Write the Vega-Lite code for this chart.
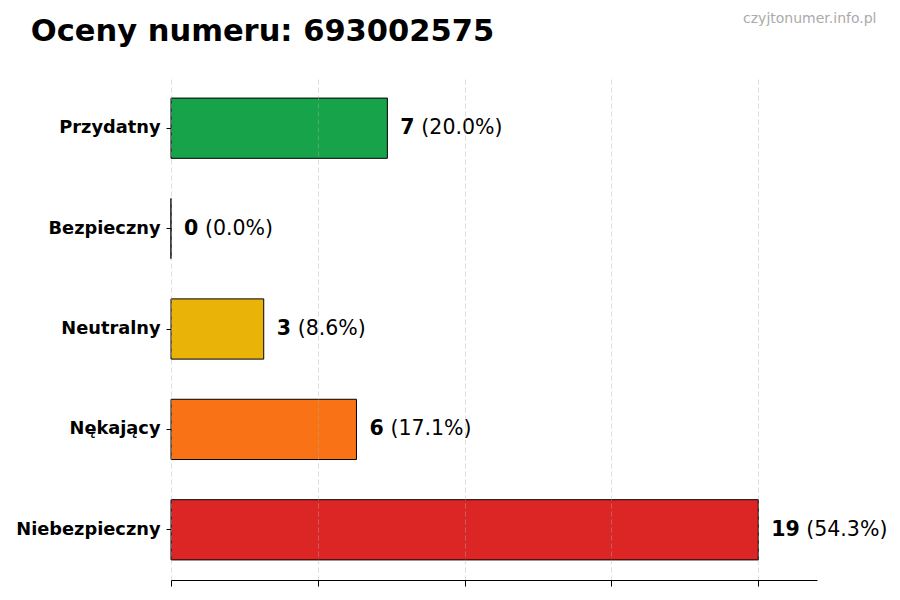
{
  "$schema": "https://vega.github.io/schema/vega-lite/v6.json",
  "width": 646,
  "height": 502,
  "autosize": {"type": "none"},
  "padding": {"left": 171, "top": 78, "right": 83, "bottom": 20},
  "background": "white",
  "view": {"stroke": null},
  "title": {
    "text": "Oceny numeru: 693002575",
    "anchor": "start",
    "font": "DejaVu Sans",
    "fontSize": 30.5,
    "fontWeight": "bold",
    "color": "black",
    "dx": 15,
    "dy": 40
  },
  "data": {
    "values": [
      {"category": "Przydatny", "count": 7, "pct": "(20.0%)"},
      {"category": "Bezpieczny", "count": 0, "pct": "(0.0%)"},
      {"category": "Neutralny", "count": 3, "pct": "(8.6%)"},
      {"category": "Nękający", "count": 6, "pct": "(17.1%)"},
      {"category": "Niebezpieczny", "count": 19, "pct": "(54.3%)"}
    ]
  },
  "encoding": {
    "y": {
      "field": "category",
      "type": "nominal",
      "sort": null,
      "scale": {"paddingInner": 0.4, "paddingOuter": 0.2},
      "axis": {
        "title": "czyjtonumer.info.pl",
        "titleAngle": 0,
        "titleAlign": "right",
        "titleBaseline": "alphabetic",
        "titleX": 705,
        "titleY": -56,
        "titleFont": "DejaVu Sans",
        "titleFontSize": 14,
        "titleFontWeight": "normal",
        "titleColor": "#aaaaaa",
        "domain": false,
        "ticks": true,
        "tickSize": 5,
        "tickColor": "black",
        "labelPadding": 6,
        "labelFont": "DejaVu Sans",
        "labelFontSize": 17.8,
        "labelFontWeight": "bold",
        "labelColor": "black"
      }
    }
  },
  "layer": [
    {
      "mark": {"type": "bar", "stroke": "black", "strokeWidth": 1},
      "encoding": {
        "x": {
          "field": "count",
          "type": "quantitative",
          "scale": {"domain": [0, 20.9], "nice": false, "zero": true},
          "axis": {
            "title": null,
            "values": [0, 4.75, 9.5, 14.25, 19],
            "labels": false,
            "ticks": true,
            "tickSize": 6,
            "tickColor": "black",
            "domain": true,
            "domainColor": "black",
            "grid": true,
            "gridColor": "#b0b0b0",
            "gridOpacity": 0.5,
            "gridDash": [5, 3],
            "gridWidth": 0.8,
            "zindex": 1
          }
        },
        "color": {
          "field": "category",
          "type": "nominal",
          "scale": {
            "domain": ["Przydatny", "Bezpieczny", "Neutralny", "Nękający", "Niebezpieczny"],
            "range": ["#16a34a", "#3b82f6", "#eab308", "#f97316", "#dc2626"]
          },
          "legend": null
        }
      }
    },
    {
      "mark": {"type": "text", "align": "left", "baseline": "middle", "dx": 13, "font": "DejaVu Sans", "fontSize": 20.5, "fontWeight": "bold", "color": "black"},
      "encoding": {
        "x": {"field": "count", "type": "quantitative"},
        "text": {"field": "count", "type": "quantitative"}
      }
    },
    {
      "transform": [{"filter": "datum.count < 10"}],
      "mark": {"type": "text", "align": "left", "baseline": "middle", "dx": 34, "font": "DejaVu Sans", "fontSize": 20.5, "color": "black"},
      "encoding": {
        "x": {"field": "count", "type": "quantitative"},
        "text": {"field": "pct"}
      }
    },
    {
      "transform": [{"filter": "datum.count >= 10"}],
      "mark": {"type": "text", "align": "left", "baseline": "middle", "dx": 48, "font": "DejaVu Sans", "fontSize": 20.5, "color": "black"},
      "encoding": {
        "x": {"field": "count", "type": "quantitative"},
        "text": {"field": "pct"}
      }
    }
  ]
}
